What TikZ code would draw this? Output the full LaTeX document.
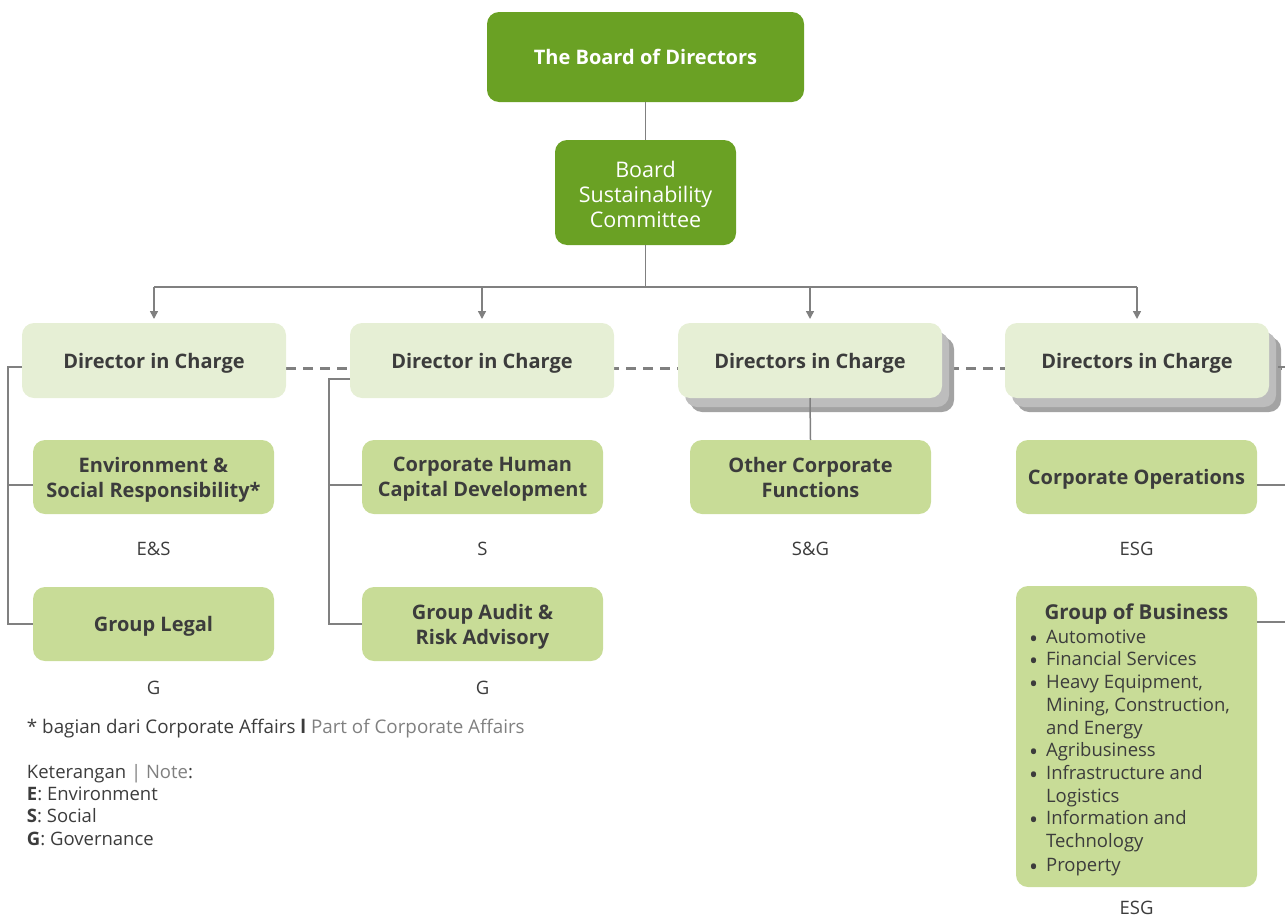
\documentclass[tikz,border=0pt]{standalone}
\usepackage{fontspec}
\setmainfont{Open Sans}
\usetikzlibrary{arrows.meta,backgrounds}
\definecolor{dkgreen}{HTML}{6AA124}
\definecolor{pale}{HTML}{E6EFD5}
\definecolor{midgreen}{HTML}{C8DC97}
\definecolor{ink}{HTML}{3C3C3C}
\definecolor{wire}{HTML}{808080}
\definecolor{muted}{HTML}{808080}
\definecolor{shA}{HTML}{BDBDBD}
\definecolor{shB}{HTML}{A3A3A3}
\newcommand{\bul}{\smash{\raisebox{-4pt}{\fontsize{24}{22}\selectfont •}}}
\begin{document}
\begin{tikzpicture}[x=1pt,y=-1pt,
  every node/.style={inner sep=0pt, outer sep=0pt},
  board/.style={fill=dkgreen, text=white, rounded corners=12pt,
    minimum width=317pt, minimum height=90pt, text depth=0pt,
    font=\fontsize{20}{24}\selectfont\bfseries},
  committee/.style={fill=dkgreen, text=white, rounded corners=12pt,
    minimum width=181pt, minimum height=105pt, align=center, text depth=0pt,
    font=\fontsize{21.5}{25}\selectfont},
  dirbox/.style={fill=pale, text=ink, rounded corners=12pt,
    minimum width=264pt, minimum height=75pt, text depth=0pt,
    font=\fontsize{20}{24}\selectfont\bfseries},
  unit/.style={fill=midgreen, text=ink, rounded corners=12pt,
    minimum width=241pt, minimum height=74pt, align=center, text depth=0pt,
    font=\fontsize{20}{25}\selectfont\bfseries},
  tag/.style={text=ink, font=\fontsize{18.5}{22}\selectfont},
  conn/.style={draw=wire, line width=1.5pt},
  down/.style={conn, -{Triangle[length=8pt,width=8pt]}},
  link/.style={draw=wire, line width=3pt, dash pattern=on 10pt off 7pt}
]
\useasboundingbox (0,0) rectangle (1285,918);

% top of the hierarchy
\node[board] (bod) at (645.5,57) {The Board of Directors};
\node[committee] (bsc) at (645.5,192.5) {\rule{0pt}{20pt}Board\\Sustainability\\Committee};

% directors in charge
\node[dirbox] (d1) at (154,360.5) {Director in Charge};
\node[dirbox] (d2) at (482,360.5) {Director in Charge};
\node[dirbox] (d3) at (810,360.5) {Directors in Charge};
\node[dirbox] (d4) at (1137,360.5) {Directors in Charge};

% units
\node[unit] (env) at (153.5,477) {Environment \&\\Social Responsibility*};
\node[unit] (gl) at (153.5,624) {Group Legal};
\node[unit] (hc) at (482.5,477) {Corporate Human\\Capital Development};
\node[unit] (ga) at (482.5,624) {Group Audit \&\\Risk Advisory};
\node[unit] (ocf) at (810.5,477) {Other Corporate\\Functions};
\node[unit] (co) at (1136.5,477) {Corporate Operations};
\node[unit, minimum height=301pt, text depth=, font=\fontsize{18.5}{22.7}\selectfont] (gb) at (1136.5,736.5) {%
  \begin{tabular}{@{}l@{\hspace{8pt}}l@{\hspace{14pt}}}
  \multicolumn{2}{c}{\rule{0pt}{25pt}\fontsize{20.5}{22.7}\selectfont\bfseries Group of Business}\\[1pt]
  \bul & Automotive\\
  \bul & Financial Services\\
  \bul & Heavy Equipment,\\
       & Mining, Construction,\\
       & and Energy\\
  \bul & Agribusiness\\
  \bul & Infrastructure and\\
       & Logistics\\
  \bul & Information and\\
       & Technology\\[1.5pt]
  \bul & Property
  \end{tabular}};

% ESG tags
\node[tag] (t1) at ([yshift=-35pt]env.south) {E\&S};
\node[tag] (t2) at ([yshift=-27pt]gl.south) {G};
\node[tag] (t3) at ([yshift=-35pt]hc.south) {S};
\node[tag] (t4) at ([yshift=-27pt]ga.south) {G};
\node[tag] (t5) at ([yshift=-35pt]ocf.south) {S\&G};
\node[tag] (t6) at ([yshift=-35pt]co.south) {ESG};
\node[tag] (t7) at ([yshift=-21pt]gb.south) {ESG};

% notes
\node[tag, anchor=west, font=\fontsize{18.8}{22}\selectfont] (fn) at (27,729) {* bagian dari Corporate Affairs {\bfseries l} \textcolor{muted}{Part of Corporate Affairs}};
\node[tag, anchor=north west, align=left, font=\fontsize{18.5}{22.4}\selectfont] (legend) at (27,764) {%
  Keterangan \textcolor{muted}{| Note}:\\
  \textbf{E}: Environment\\
  \textbf{S}: Social\\
  \textbf{G}: Governance};

% stacked shadows and the dashed link behind the boxes
\begin{scope}[on background layer]
  \draw[link] (d1.east |- 0,368) -- (1285,368);
  \foreach \n in {d3,d4} {
    \fill[shB, rounded corners=12pt] ([xshift=12pt,yshift=-14pt]\n.south west) rectangle ([xshift=12pt,yshift=-14pt]\n.north east);
    \fill[shA, rounded corners=12pt] ([xshift=7pt,yshift=-9pt]\n.south west) rectangle ([xshift=7pt,yshift=-9pt]\n.north east);
  }
\end{scope}

% reporting lines
\coordinate (bus) at (645.5,287);
\draw[conn] (bod.south) -- (bsc.north);
\draw[conn] (bsc.south) -- (bus);
\draw[conn] (d1.north |- bus) -- (d4.north |- bus);
\foreach \n in {d1,d2,d3,d4}
  \draw[down] (\n.north |- bus) -- ([yshift=4pt]\n.north);

% left brackets
\draw[conn] ([yshift=-6.5pt]d1.west) -- ++(-14,0) |- (gl.west);
\draw[conn] ([yshift=-8pt]env.west) -- ++(-25,0);
\draw[conn] ([yshift=-18.5pt]d2.west) -- ++(-21,0) |- (ga.west);
\draw[conn] ([yshift=-8pt]hc.west) -- ++(-33,0);
\draw[conn] (d3.south) -- (ocf.north);

% right brackets running off the edge
\coordinate (e1) at (1285,367);
\coordinate (e2) at (1285,485);
\coordinate (e3) at (1285,622);
\draw[conn] ([xshift=9pt]d4.east |- e1) -- (e1);
\draw[conn] (co.east |- e2) -- (e2);
\draw[conn] (gb.east |- e3) -- (e3);
\end{tikzpicture}
\end{document}
